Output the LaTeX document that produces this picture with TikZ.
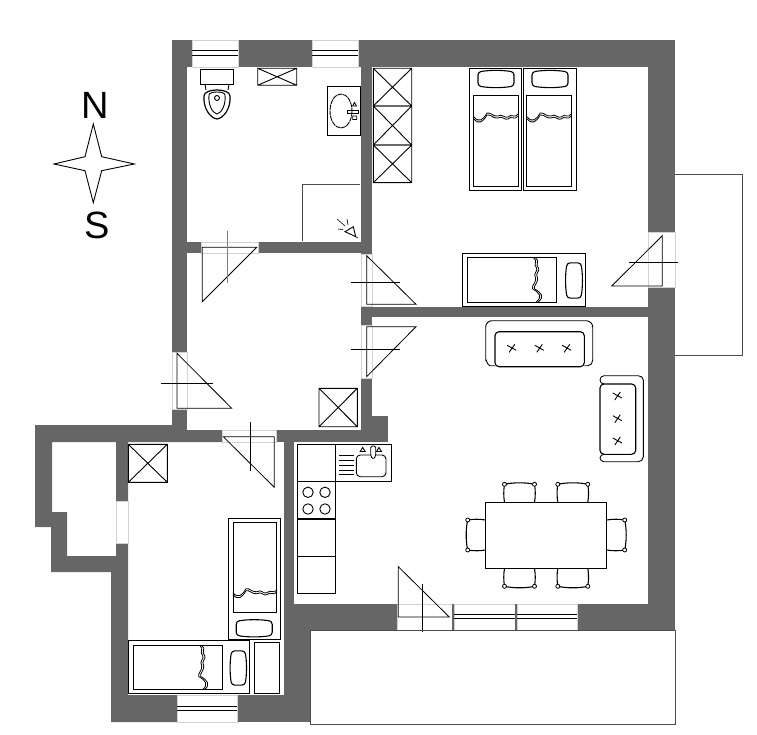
\documentclass[tikz,border=0pt]{standalone}
\usepackage{fontspec}
\setmainfont{Liberation Sans}
\definecolor{wallgray}{HTML}{666666}
\tikzset{
    blanket/.pic={
        \draw[line width=0.8pt] (-22,1) .. controls (-17,7) and (-13,4) .. (-9,-3) .. controls (-5,-4) and (-3,1) .. (2,0) .. controls (6,-3) and (9,3) .. (12,1) .. controls (15,-3) and (19,3) .. (22,-2);
        \draw[line width=0.8pt] (-22,3) .. controls (-17,9) and (-13,6) .. (-9,-1) .. controls (-5,-2) and (-3,3) .. (2,2) .. controls (6,-1) and (9,5) .. (12,3) .. controls (15,-1) and (19,5) .. (22,0);
    },
    pillow/.pic={
        \draw[line width=1.1pt, rounded corners=3pt] (-18,-7) .. controls (-6,-9) and (6,-9) .. (18,-7) -- (18,7) .. controls (6,9) and (-6,9) .. (-18,7) -- cycle;
    },
    seatchair/.pic={
        \draw[line width=1.1pt] (-15,0) .. controls (-16,-6) and (-16,-12) .. (-15,-18) .. controls (-6,-20) and (6,-20) .. (15,-18) .. controls (16,-12) and (16,-6) .. (15,0);
        \draw[line width=0.8pt, fill=white] (-15,-18) circle (2);
        \draw[line width=0.8pt, fill=white] (15,-18) circle (2);
    }
}
\begin{document}
\begin{tikzpicture}[
        x=1pt, y=-1pt,
        line width=0.8pt,
        wall/.style={fill=wallgray, draw=none},
        gapline/.style={draw=gray!35, line width=0.5pt},
        furniture/.style={draw=black, line width=0.9pt},
        doorline/.style={draw=black, line width=0.8pt},
        compass/.style={font=\fontsize{38}{38}\selectfont, inner sep=0pt}
    ]
        \useasboundingbox (0,0) rectangle (757,735);

        \foreach \xa/\ya/\xb/\yb in {172/40/192/67, 238/40/312/67, 358/40/675/67, 172/40/187/352,
                187/242/201/253, 258/242/372/253, 361/40/372/254, 361/306/372/325, 372/307/648/317,
                648/40/675/232, 648/287/675/630, 361/378/372/430, 372/416/388/442, 172/409/187/442,
                276/430/388/442, 237/695/310/722, 284/442/294/604, 284/604/310/722, 284/604/397/630,
                577/604/675/630}
            \fill[wall] (\xa,\ya) rectangle (\xb,\yb);
        \fill[wall] (35,425) -- (172,425) -- (172,430) -- (222,430) -- (222,442) -- (128,442) -- (128,501)
            -- (116,501) -- (116,442) -- (52,442) -- (52,512) -- (67,512) -- (67,556) -- (116,556) -- (116,543)
            -- (128,543) -- (128,695) -- (177,695) -- (177,722) -- (111,722) -- (111,572) -- (51,572)
            -- (51,527) -- (35,527) -- cycle;

        \foreach \xa/\ya/\xb/\yb in {201/242/258/253, 361/254/372/306, 361/325/372/378, 172/352/187/409,
                222/430/276/442, 648/232/675/287, 116/501/128/543, 397/604/452/630, 454/604/515/630,
                517/604/577/630, 192/40/238/67, 312/40/358/67, 177/695/237/722}
            \draw[gapline] (\xa,\ya) rectangle (\xb,\yb);
        \foreach \xp in {453,516}
            \draw[draw=wallgray, line width=2pt] (\xp,604) -- (\xp,630);

        % windows
        \foreach \xa/\xb in {192/238, 312/358}
            \draw[furniture] (\xa,50.7) -- (\xb,50.7) (\xa,55) -- (\xb,55);
        \foreach \xa/\xb in {454/515, 517/577}
            \draw[furniture] (\xa,614) -- (\xb,614) (\xa,618) -- (\xb,618);
        \draw[furniture] (177,706.7) -- (237,706.7) (177,710.7) -- (237,710.7);

        % doors
        \draw[doorline] (202.3,247.3) -- (256.7,247.3) -- (202.3,301.7) -- cycle;
        \draw[draw=gray, line width=1pt] (227,231) -- (227,283);
        \draw[doorline] (366.7,255.7) -- (366.7,304.3) -- (416,304.3) -- cycle;
        \draw[doorline] (351,282.3) -- (400,282.3);
        \draw[doorline] (366.7,376.7) -- (366.7,326.7) -- (416,326.7) -- cycle;
        \draw[doorline] (351,349) -- (400,349);
        \draw[doorline] (177,353.3) -- (177,408.3) -- (231.7,408.3) -- cycle;
        \draw[doorline] (161,383.3) -- (213.3,383.3);
        \draw[doorline] (223.3,436.7) -- (274.3,436.7) -- (274.3,487.3) -- cycle;
        \draw[doorline] (250.3,421.7) -- (250.3,470.7);
        \draw[doorline] (662.3,235.7) -- (662.3,286) -- (611.7,286) -- cycle;
        \draw[doorline] (629,262) -- (677.7,262);
        \draw[doorline] (398.3,566.7) -- (398.3,617) -- (449.3,617) -- cycle;
        \draw[doorline] (422.3,584) -- (422.3,631.7);

        % balcony and terrace
        \draw[draw=black!70, line width=0.9pt] (675,174) -- (742,174) -- (742,355) -- (675,355);
        \draw[draw=black!70, line width=0.9pt] (310,630) -- (675,630) -- (675,724) -- (310,724) -- cycle;

        % boxes with a cross
        \foreach \xa/\ya/\xb/\yb in {257.7/68.3/296.7/85.3, 373.3/68.3/411.7/106, 373.3/106/411.7/145,
                373.3/145/411.7/182.7, 319/388.3/357.3/426.7, 128.3/444.3/167.3/482.3}
            \draw[furniture] (\xa,\ya) rectangle (\xb,\yb) (\xa,\ya) -- (\xb,\yb) (\xa,\yb) -- (\xb,\ya);

        % bathroom
        \draw[furniture, line width=1.2pt] (200.7,69.3) rectangle (233.3,84.3);
        \draw[furniture] (205,84.3) -- (206,90) (229,84.3) -- (228,90);
        \draw[furniture, line width=1.2pt] (204,96) .. controls (204,88) and (230,88) .. (230,96) .. controls (231,108) and (224,118) .. (217,119) .. controls (210,118) and (203,108) .. (204,96) -- cycle;
        \draw[furniture] (209,95) .. controls (209,91) and (225,91) .. (225,95) .. controls (226,104) and (222,113) .. (217,114) .. controls (212,113) and (208,104) .. (209,95) -- cycle;
        \draw[furniture] (217,98) circle (2.5);
        \draw[furniture] (327.7,86.7) rectangle (360,135.3);
        \draw[furniture, dash pattern=on 5pt off 0.7pt] (341,111) ellipse (11 and 17);
        \draw[furniture] (347.7,110) rectangle (358,113);
        \draw[furniture] (352.7,106) -- (354.5,102.5) -- (356.5,106) -- cycle (352.7,116) rectangle (356.7,119.5);
        \draw[draw=black!70, line width=0.9pt] (302.7,241) -- (302.7,184) -- (360,184);
        \draw[furniture] (353.3,226.7) -- (345,231.7) -- (355.7,236.7) -- cycle;
        \draw[furniture, line width=0.6pt] (337,219) -- (345,226) (347,219) -- (348,225) (338,229) -- (343,229.5) (355.7,236.7) -- (358,238);

        % beds
        \draw[furniture] (469.3,68.3) rectangle (521.7,190.3) (473.7,95.3) rectangle (518.3,186.7);
        \draw[furniture] (523.3,68.3) rectangle (576.7,190.3) (526.7,95.3) rectangle (571.7,186.7);
        \pic at (496,79) {pillow};
        \pic at (550,79) {pillow};
        \pic at (496,116) {blanket};
        \pic at (549.2,116) {blanket};
        \draw[furniture] (462.3,253.3) rectangle (585.7,306) (467,257.3) rectangle (556.7,302.3);
        \pic[rotate=90] at (535.5,279.8) {blanket};
        \pic[rotate=90, scale=0.98] at (574,280.5) {pillow};
        \draw[furniture] (228.7,518.7) rectangle (280.3,639.3) (233.3,522.3) rectangle (276.7,612.3);
        \pic at (255,591.7) {blanket};
        \pic at (254.2,628.3) {pillow};
        \draw[furniture] (128.7,640.7) rectangle (249.7,693.7) (133.3,645.7) rectangle (222.3,689.3);
        \pic[rotate=90] at (201.7,667.5) {blanket};
        \pic[rotate=90, scale=0.95] at (238.3,668) {pillow};
        \draw[furniture] (254.3,642.3) rectangle (279.7,693.3);

        % sofas
        \draw[furniture] (495,365.7) -- (490,365.7) to[out=180,in=90] (485.7,360) -- (485.7,327) to[out=90,in=180] (492,320.7) -- (586,320.7) to[out=0,in=90] (592.7,327) -- (592.7,360) to[out=-90,in=0] (588,365.7) -- (584.3,365.7);
        \draw[furniture, line width=1.1pt, rounded corners=4pt] (495,366.7) -- (495,331.7) -- (584.3,331.7) -- (584.3,366.7) -- cycle;
        \draw[furniture] (643.3,380) -- (643.3,457) to[out=-90,in=0] (638,461.7) -- (604,461.7) to[out=180,in=-90] (600,458) to[out=90,in=180] (604,454.3);
        \draw[furniture] (643.3,380) to[out=90,in=0] (638,375.7) -- (604,375.7) to[out=180,in=90] (600,380) to[out=-90,in=180] (604,384);
        \draw[furniture, line width=1.1pt, rounded corners=4pt] (600,384) -- (635.7,384) -- (635.7,454.3) -- (600,454.3) -- cycle;
        \foreach \xc/\yc in {511.7/348.3, 539.3/348.3, 566.7/348.3, 617.3/396, 617.3/418.7, 617.3/441}
            \draw[furniture] (\xc-4.5,\yc-3) -- (\xc+4.5,\yc+2) (\xc-2.5,\yc+4) -- (\xc+3,\yc-4);

        % kitchen
        \draw[furniture] (297.3,444) rectangle (335.3,593.3) (297.3,481.7) -- (335.3,481.7) (297.3,556.3) -- (335.3,556.3);
        \draw[furniture, line width=1.3pt] (297.3,519) -- (335.3,519);
        \draw[furniture] (335.3,444) rectangle (391.7,481.7);
        \foreach \xc/\yc in {308/492.3, 325/492.3, 308/509, 325/509}
            \draw[furniture] (\xc,\yc) circle (5.2);
        \foreach \yc in {455.7,460.7,465.7,470,474.7}
            \draw[furniture] (339,\yc) -- (354,\yc);
        \draw[furniture, rounded corners=4pt] (356.3,455) rectangle (386,476.7);
        \draw[furniture, fill=white, rounded corners=1.5pt] (370.7,446) -- (375.7,446) -- (375.7,456) -- (373.2,459.5) -- (370.7,456) -- cycle;
        \foreach \xc in {362.7,379}
            \draw[furniture] (\xc-2.5,451.5) -- (\xc,447.5) -- (\xc+2.5,451.5) -- cycle;

        % dining table
        \draw[furniture] (485.7,502.3) rectangle (606.7,568.3);
        \pic at (519.5,502.3) {seatchair};
        \pic at (572.8,502.3) {seatchair};
        \pic[rotate=180] at (519.5,568.3) {seatchair};
        \pic[rotate=180] at (572.8,568.3) {seatchair};
        \pic[rotate=90] at (485.7,535) {seatchair};
        \pic[rotate=-90] at (606.7,535) {seatchair};

        % compass
        \draw[furniture] (93.3,124) -- (101.7,156.7) -- (134.3,164) -- (101.7,170.7) -- (93.3,202.7) -- (85,170.7) -- (54,164) -- (85,156.7) -- cycle;
        \node[compass] (north) at (95,105) {N};
        \node[compass] (south) at (97,225) {S};
    \end{tikzpicture}
\end{document}
